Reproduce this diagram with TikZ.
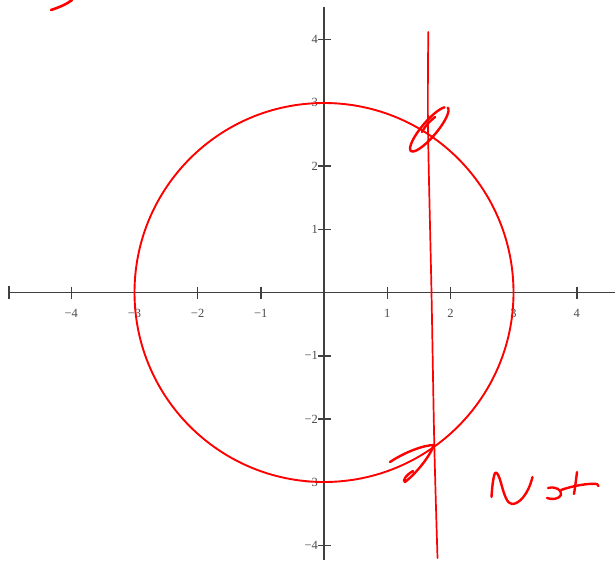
\documentclass[tikz,border=0pt]{standalone}
\usepackage{fontspec}
\setmainfont{Liberation Serif}
\begin{document}
\begin{tikzpicture}[x=1pt,y=-1pt,
  axis/.style={draw=black!75,line width=1.6pt},
  tickmark/.style={draw=black!75,line width=1.4pt},
  lbl/.style={text=black!70,font=\fontsize{12.5}{14}\selectfont,inner sep=0pt},
  curve/.style={draw=red,line width=1.9pt},
  ink/.style={draw=red,line width=2.4pt,line cap=round,line join=round}]
\useasboundingbox (0,0) rectangle (615,560);
\fill[white] (0,0) rectangle (615,560);
% axes
\coordinate (O) at (324,292.5);
\coordinate (xl) at (9,292.5);
\coordinate (xr) at (615,292.5);
\coordinate (yt) at (324,7);
\coordinate (yb) at (324,560);
\draw[axis] (xl) -- (xr);
\draw[axis] (yt) -- (yb);
\draw[tickmark] (9,286) -- (9,299);
% x ticks and labels
\foreach \i/\t in {-4/{−4},-3/{−3},-2/{−2},-1/{−1},1/1,2/2,3/3,4/4}{
  \draw[tickmark] ({324+63.2*\i},286.5) -- ({324+63.2*\i},299);
  \node[lbl,anchor=center] (xlab\i) at ({324+63.2*\i},313) {\t};
}
% y ticks and labels
\foreach \i/\t in {4/4,3/3,2/2,1/1,-1/{−1},-2/{−2},-3/{−3},-4/{−4}}{
  \draw[tickmark] (318,{292.5-63.3*\i}) -- (331,{292.5-63.3*\i});
  \node[lbl,anchor=east] (ylab\i) at (318,{292.5-63.3*\i}) {\t};
}
% circle
\draw[curve] (O) circle (189.5);
% handwritten vertical line
\draw[ink,line width=1.7pt] plot[smooth] coordinates {(428.3,32) (428,128) (431.5,293) (434.3,445) (437.5,558)};
% top loop
\draw[ink] plot[smooth,samples=60,domain=0:340,variable=\t]
  ({429.3+28.4*cos(\t)*0.646+7.5*sin(\t)*0.762},{129.3-28.4*cos(\t)*0.762+7.5*sin(\t)*0.646});
\draw[ink] (435,117) .. controls (430,121) and (425,126) .. (422,132);
% bottom mark
\draw[ink] (390,462) .. controls (405,452) and (424,445) .. (434,445)
  .. controls (428,460) and (413,476) .. (405,482)
  .. controls (402,481) and (406,475) .. (413,471);
% "Not"
\draw[ink] (491.5,497) .. controls (492,488) and (493,478) .. (495,473)
  .. controls (497,471) and (499,476) .. (501,483)
  .. controls (504,494) and (507,504) .. (512,504)
  .. controls (519,504) and (528,495) .. (532.5,477);
\draw[ink] (548,488) .. controls (556,486) and (562,490) .. (561,495)
  .. controls (559,499) and (552,500) .. (547,498);
\draw[ink] (561,490) .. controls (572,486) and (588,483) .. (597,484) -- (598.5,486);
\draw[ink] (577,472) .. controls (576,480) and (575,488) .. (574,494);
% top-left stroke
\draw[ink,line width=2.6pt] (51,10) .. controls (60,7) and (67,4) .. (72,0);
\end{tikzpicture}
\end{document}
